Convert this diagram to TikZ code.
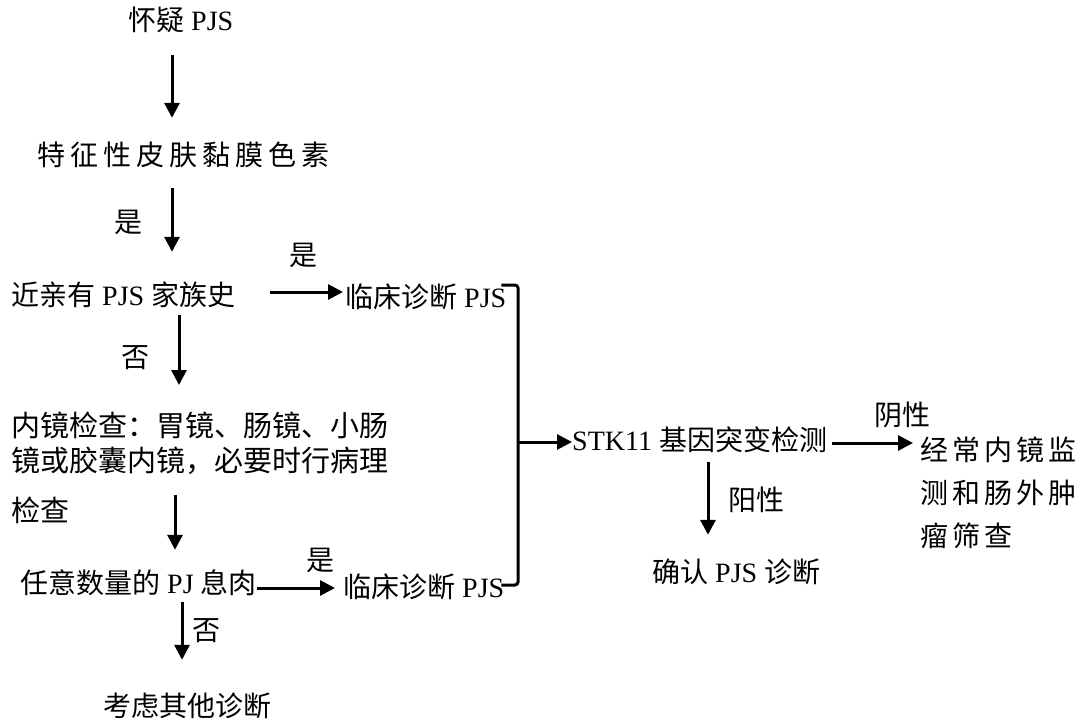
\documentclass[tikz,border=0pt]{standalone}
\usepackage{fontspec}
\setmainfont{Liberation Serif}
\newfontfamily\cjk{Noto Sans CJK SC}
\usetikzlibrary{arrows.meta,calc}
\newcommand\zh[1]{{\cjk #1}}
\begin{document}
\begin{tikzpicture}[x=1pt,y=-1pt,
  txt/.style={inner sep=0pt, text height=24pt, text depth=3pt, font=\fontsize{28}{34}\selectfont},
  blk/.style={inner sep=0pt, align=left, font=\fontsize{28}{35}\selectfont\cjk},
  lbl/.style={txt},
  arr/.style={line width=3pt, -{Triangle[length=15pt,width=15pt]}},
  ln/.style={line width=3pt}]
\fill[white] (0,0) rectangle (1085,724);
\useasboundingbox (0,0) rectangle (1085,724);

% nodes
\node[txt, anchor=west] (q) at (128,20) {\zh{怀疑} PJS};
\node[txt, anchor=west] (f) at (37,155) {\zh{特\hspace{5pt}征\hspace{5pt}性\hspace{5pt}皮\hspace{5pt}肤\hspace{5pt}黏\hspace{5pt}膜\hspace{5pt}色\hspace{5pt}素}};
\node[txt, anchor=west] (h) at (11,295) {\zh{近亲有} PJS \zh{家族史}};
\node[txt, anchor=west] (c1) at (345,297) {\zh{临床诊断} PJS};
\node[blk, anchor=north west, font=\fontsize{29}{35}\selectfont\cjk] (e) at (11,412) {内镜检查：胃镜、肠镜、小肠\\镜或胶囊内镜，必要时行病理\\[15pt]检查};
\node[txt, anchor=west] (p) at (20,583) {\zh{任意数量的} PJ \zh{息肉}};
\node[txt, anchor=west] (c2) at (343,587) {\zh{临床诊断} PJS};
\node[txt, anchor=west] (o) at (103,706) {\zh{考虑其他诊断}};
\node[txt, anchor=west] (s) at (572,440) {STK11 \zh{基因突变检测}};
\node[txt, anchor=west] (y) at (652,572) {\zh{确认} PJS \zh{诊断}};
\node[blk, anchor=north west, font=\fontsize{28}{43}\selectfont\cjk] (m) at (920,437)
  {经\hspace{4pt}常\hspace{4pt}内\hspace{4pt}镜\hspace{4pt}监\\测\hspace{4pt}和\hspace{4pt}肠\hspace{4pt}外\hspace{4pt}肿\\瘤\hspace{4pt}筛\hspace{4pt}查};

% labels
\node[lbl] (l1) at (128,222) {\zh{是}};
\node[lbl] (l2) at (303,255) {\zh{是}};
\node[lbl] (l3) at (135,357) {\zh{否}};
\node[lbl] (l4) at (320,560) {\zh{是}};
\node[lbl] (l5) at (206,630) {\zh{否}};
\node[lbl] (l6) at (756,500) {\zh{阳性}};
\node[lbl] (l7) at (902,415) {\zh{阴性}};

% x positions of vertical arrows
\coordinate (x1) at (172,0);
\coordinate (x3) at (179,0);
\coordinate (x4) at (175,0);
\coordinate (x5) at (182,0);
\coordinate (x6) at (708,0);

\draw[arr, shorten <=21.5pt, shorten >=23.5pt] (q.south -| x1) -- (f.north -| x1);
\draw[arr, shorten <=19.5pt, shorten >=29.5pt] (f.south -| x1) -- (h.north -| x1);
\draw[arr, shorten <=6.5pt, shorten >=27pt] (h.south -| x3) -- (e.north -| x3);
\draw[arr, shorten <=-29pt, shorten >=19.5pt] (e.south -| x4) -- (p.north -| x4);
\draw[arr, shorten <=5.5pt, shorten >=32.5pt] (p.south -| x5) -- (o.north -| x5);
\draw[arr, shorten <=8.5pt, shorten >=23.5pt] (s.south -| x6) -- (y.north -| x6);

\draw[arr, shorten <=35pt, shorten >=2pt] ([yshift=3pt]h.east) -- ([yshift=3pt]h.east -| c1.west);
\draw[arr, shorten >=8pt] ([yshift=-5pt]p.east) -- ([yshift=-5pt]p.east -| c2.west);

% bracket
\coordinate (bt) at (518,285);
\coordinate (bb) at (518,585);
\coordinate (bm) at (518,442);
\draw[ln, rounded corners=3pt] ($(c1.east)+(-5,-12)$) -- (bt) -- (bb) -- ($(c2.east)+(-3,-2)$);
\draw[arr] (bm) -- (bm -| s.west);
\draw[arr, shorten <=5pt, shorten >=7pt] ([yshift=-3pt]s.east) -- ([yshift=-3pt]s.east -| m.west);
\end{tikzpicture}
\end{document}
